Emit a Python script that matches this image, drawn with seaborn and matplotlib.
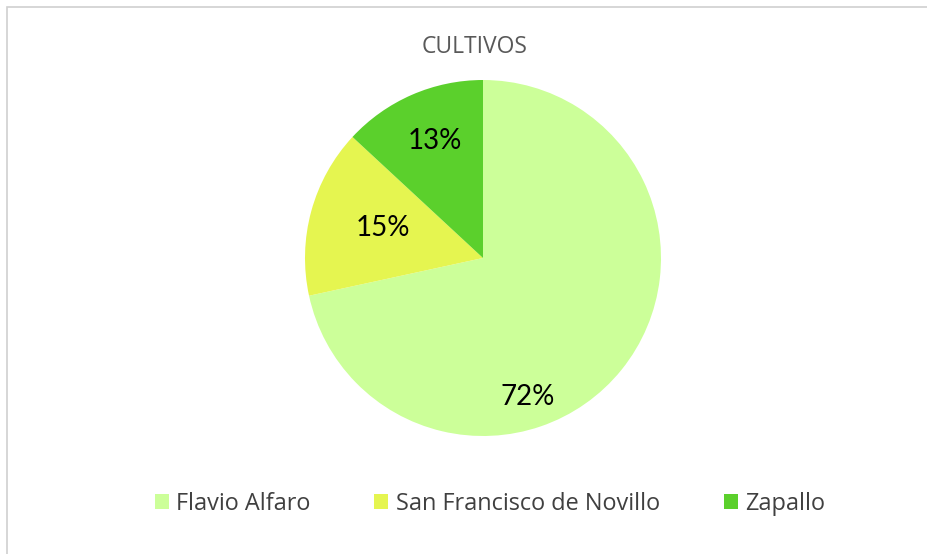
import matplotlib
matplotlib.use("Agg")
import matplotlib.pyplot as plt
import matplotlib.patches as mpatches
import seaborn as sns

categories = ["Flavio Alfaro", "San Francisco de Novillo", "Zapallo"]
values = [71.6, 15.3, 13.1]
colors = ["#CCFF99", "#E5F550", "#5BD02C"]
title = "CULTIVOS"

sns.set_theme(style="white")
plt.rcParams['font.family'] = ['Open Sans', 'DejaVu Sans']

W, H = 928, 554
fig = plt.figure(figsize=(W / 100, H / 100), dpi=100)
fig.patch.set_facecolor("white")

# outer border (chart area)
border = mpatches.Rectangle((7 / W, -0.05), 1.2, 1 - 7 / H + 0.05,
                            transform=fig.transFigure, fill=False,
                            edgecolor="#D0D0D0", linewidth=1.2, clip_on=False)
fig.patches.append(border)

cx, cy, r = 483, 258, 178
ax = fig.add_axes([(cx - r) / W, (H - cy - r) / H, 2 * r / W, 2 * r / H])

wedges, texts, autotexts = ax.pie(
    values, colors=colors, startangle=90, counterclock=False,
    autopct=lambda p: f"{p:.0f}%", radius=1,
    wedgeprops=dict(linewidth=0),
    textprops=dict(fontsize=20, color="black", family=["Lato", "DejaVu Sans"]))

label_pos = [(0.25, -0.78), (-0.56, 0.17), (-0.27, 0.66)]
for t, pos in zip(autotexts, label_pos):
    t.set_position(pos)
    t.set_ha("center")
    t.set_va("center")

ax.set_xlim(-1, 1)
ax.set_ylim(-1, 1)
ax.set_aspect("equal")
ax.axis("off")

fig.text(475 / W, 1 - 47 / H, title, ha="center", va="center",
         fontsize=16.5, color="#595959")

handles = [mpatches.Patch(facecolor=c, edgecolor="none") for c in colors]
fig.legend(handles, categories, loc="center", bbox_to_anchor=(490 / W, 1 - 504 / H),
           ncol=3, frameon=False, fontsize=16.9, labelcolor="#404040",
           handlelength=0.6, handleheight=0.6, handletextpad=0.33,
           columnspacing=2.7)

fig.savefig("out.png", dpi=100, facecolor="white")
